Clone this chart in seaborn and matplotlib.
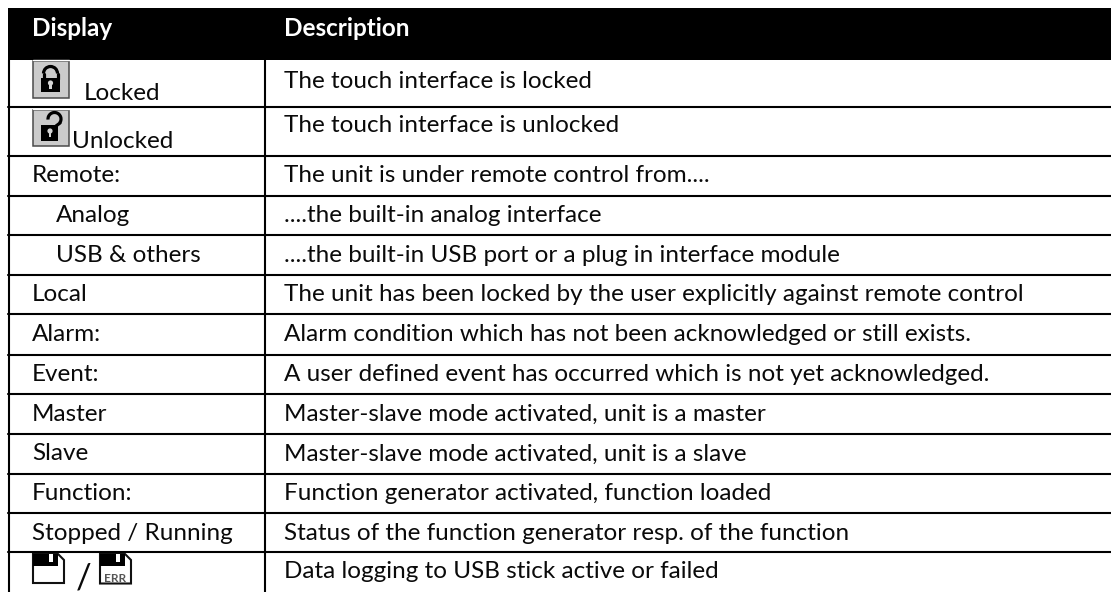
import matplotlib
matplotlib.use("Agg")
import matplotlib.pyplot as plt
import matplotlib.patches as mp
import pandas as pd
import seaborn as sns

header = ["Display", "Description"]
display_labels = ["Locked", "Unlocked", "Remote:", "Analog", "USB & others", "Local", "Alarm:",
                  "Event:", "Master", "Slave", "Function:", "Stopped / Running"]
separator_label = "/"
descriptions = [
    "The touch interface is locked",
    "The touch interface is unlocked",
    "The unit is under remote control from....",
    "....the built-in analog interface",
    "....the built-in USB port or a plug in interface module",
    "The unit has been locked by the user explicitly against remote control",
    "Alarm condition which has not been acknowledged or still exists.",
    "A user defined event has occurred which is not yet acknowledged.",
    "Master-slave mode activated, unit is a master",
    "Master-slave mode activated, unit is a slave",
    "Function generator activated, function loaded",
    "Status of the function generator resp. of the function",
    "Data logging to USB stick active or failed",
]

# layout (pixels of the 1111x592 page)
W, H = 1111, 592
rule_y = [107, 155.5, 195.7, 234.7, 275, 314.3, 354.7, 393.7, 433.7, 473.7, 512.7, 552]
disp_x = [84, 72, 32, 56, 56, 32, 32, 32, 32, 32, 32, 32]
disp_base = [100.5, 148.5, 182, 222, 262, 301, 341, 381, 421, 460.5, 500.5, 539.5]
desc_base = [88.5, 132.5, 182, 222, 262, 301, 341, 381, 421, 460.5, 500.5, 539.5, 578.5]

sns.set_theme(style="white")
plt.rcParams["font.family"] = ["Lato", "DejaVu Sans"]
fig = plt.figure(figsize=(W / 100, H / 100), dpi=100)
ax = fig.add_axes([0, 0, 1, 1])

rules = []
for i, y in enumerate(rule_y):
    rules += [{"rule": f"h{i}", "x": 8, "y": y}, {"rule": f"h{i}", "x": W, "y": y}]
for name, x in (("left", 8.7), ("mid", 264.8)):
    rules += [{"rule": name, "x": x, "y": 60}, {"rule": name, "x": x, "y": H}]
sns.lineplot(data=pd.DataFrame(rules), x="x", y="y", units="rule", estimator=None, sort=False,
             color="black", lw=1.5, legend=False, ax=ax)
ax.set_xlim(0, W)
ax.set_ylim(H, 0)
ax.set_axis_off()

ax.add_patch(mp.Rectangle((8, 8), W - 8, 52, fc="black", ec="none", zorder=3))

FS = 17.5
ax.text(32, 35.5, header[0], color="white", fontsize=FS, fontweight="bold", va="baseline", zorder=4)
ax.text(283.5, 35.5, header[1], color="white", fontsize=FS, fontweight="bold", va="baseline", zorder=4)
for lab, x, y in zip(display_labels, disp_x, disp_base):
    ax.text(x, y, lab, color="#0a0a0a", fontsize=FS, va="baseline", zorder=4)
for d, y in zip(descriptions, desc_base):
    ax.text(283.5, y, d, color="#0a0a0a", fontsize=FS, va="baseline", zorder=4)
ax.text(75.5, 588, separator_label, color="#0a0a0a", fontsize=25, va="baseline", zorder=4)


def lock_box(x0, y0, w, h):
    ax.add_patch(mp.Rectangle((x0, y0), w, h, fc="#cbcbcb", ec="#4a4a4a", lw=1.1, zorder=3))
    ax.plot([x0, x0 + w], [y0 - 0.5, y0 - 0.5], color="white", lw=1, zorder=4)


def keyhole(cx, cy):
    ax.add_patch(mp.Circle((cx, cy), 2.6, fc="#d5d5d5", ec="none", zorder=6))
    ax.add_patch(mp.Rectangle((cx - 1.1, cy), 2.2, 5.5, fc="#d5d5d5", ec="none", zorder=6))


# closed padlock
lock_box(32.5, 60.5, 36, 37)
ax.add_patch(mp.Rectangle((41, 78), 19, 14, fc="black", ec="none", zorder=5))
ax.add_patch(mp.Arc((50.5, 73.5), 14, 14, theta1=180, theta2=360, ec="black", lw=2.3, zorder=5))
ax.plot([43.5, 43.5], [73.5, 79], color="black", lw=2.3, zorder=5)
ax.plot([57.5, 57.5], [73.5, 79], color="black", lw=2.3, zorder=5)
keyhole(50.5, 83)

# open padlock
lock_box(32.5, 109.5, 36, 36.5)
ax.add_patch(mp.Rectangle((41, 125), 17, 16, fc="black", ec="none", zorder=5))
ax.add_patch(mp.Arc((54.5, 119), 13, 13, theta1=175, theta2=40, ec="black", lw=2.3, zorder=5))
ax.plot([60, 56], [123, 126], color="black", lw=2.3, zorder=5)
keyhole(50, 131)


def floppy(x0, y0, w, h, err):
    pts = [(x0, y0), (x0 + w - 6, y0), (x0 + w, y0 + 6), (x0 + w, y0 + h), (x0, y0 + h)]
    ax.add_patch(mp.Polygon(pts, closed=True, fc="white", ec="#111111", lw=1.5, zorder=5))
    ax.add_patch(mp.Rectangle((x0, y0), w - 6, 12, fc="black", ec="none", zorder=6))
    ax.add_patch(mp.Rectangle((x0 + 16, y0), 4, 8, fc="white", ec="none", zorder=7))
    if err:
        ax.text(x0 + w / 2, y0 + h - 1.8, "ERR", fontsize=8.5, color="#555555", ha="center", va="baseline",
                fontweight="bold", zorder=7)


floppy(33, 554, 31, 29, False)
floppy(100, 554, 31, 29.5, True)

fig.savefig("out.png", dpi=100)
